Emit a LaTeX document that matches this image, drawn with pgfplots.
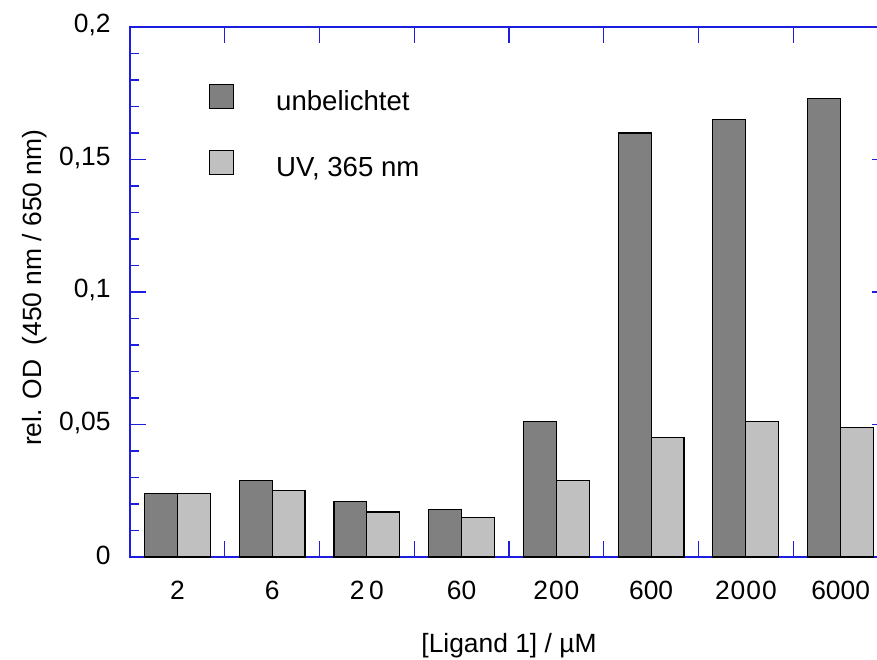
\documentclass[border=0pt]{standalone}
\usepackage{fontspec}
\setmainfont{Liberation Sans}
\usepackage{pgfplots}
\pgfplotsset{compat=1.18}
\definecolor{axisblue}{RGB}{30,30,225}
\definecolor{darkbar}{RGB}{128,128,128}
\definecolor{lightbar}{RGB}{192,192,192}

\pgfplotsset{
  squarelegend/.style={
    legend image code/.code={
      \draw[##1, draw=black, line width=0.6pt] (0pt,-2.5pt) rectangle (12pt,9.5pt);
    }
  }
}

\begin{document}
\fontsize{13.2}{15.8}\selectfont
\begin{tikzpicture}
\useasboundingbox (0,0) rectangle (438.5pt,329.5pt);
\clip (0,0) rectangle (438.5pt,329.5pt);
\begin{axis}[
  at={(65pt,51pt)}, anchor=south west,
  scale only axis, width=379pt, height=265pt,
  xmin=-0.5, xmax=7.5, ymin=0, ymax=0.2,
  axis line style={draw=axisblue, line width=0.6pt},
  every tick/.style={draw=axisblue, line width=0.6pt},
  major tick length=8pt, minor tick length=4.5pt,
  tick align=inside,
  /pgf/number format/assume math mode=true,
  % group boundaries carry the ticks, group centres carry the labels
  xtick={0.5,1.5,...,6.5}, xticklabels={},
  extra x ticks={0,1,2,3,4,5,6,7},
  extra x tick labels={2,6,2\,0,60,2\hspace{0.5pt}0\hspace{0.5pt}0,600,2\hspace{0.5pt}0\hspace{0.5pt}0\hspace{0.5pt}0,6000},
  extra x tick style={major tick length=0pt},
  x tick label style={inner ysep=0pt, yshift=-12pt},
  ytick={0,0.05,0.1,0.15,0.2},
  yticklabels={0,{0,05},{0,1},{0,15},{0,2}},
  minor y tick num=4,
  y tick label style={inner xsep=0pt, xshift=-9.5pt, yshift=1pt},
  xlabel={[Ligand 1] / µM},
  xlabel style={at={(axis description cs:0.5,0)}, anchor=north, yshift=-38pt, inner sep=0pt},
  ylabel={rel. OD\ \ (450 nm / 650 nm)},
  ylabel style={at={(axis description cs:-0.1425,0.508)}, anchor=north, inner sep=0pt},
  legend style={draw=none, fill=none, at={(0.1042,0.8925)}, anchor=north west,
    inner sep=0pt, outer sep=0pt, row sep=17pt, column sep=21pt,
    nodes={inner sep=0pt, text height=9.5pt, text depth=2.5pt,
      font=\fontsize{13.8}{16}\selectfont}},
  legend cell align=left,
]
\addplot[ybar, bar width=0.348, bar shift=-0.174, fill=darkbar, draw=black, line width=0.6pt, squarelegend]
  coordinates {(0,0.024) (1,0.029) (2,0.021) (3,0.018) (4,0.051) (5,0.160) (6,0.165) (7,0.173)};
\addplot[ybar, bar width=0.348, bar shift=0.174, fill=lightbar, draw=black, line width=0.6pt, squarelegend]
  coordinates {(0,0.024) (1,0.025) (2,0.017) (3,0.015) (4,0.029) (5,0.045) (6,0.051) (7,0.049)};
\legend{unbelichtet, {UV, 365 nm}}
\end{axis}
\end{tikzpicture}
\end{document}
